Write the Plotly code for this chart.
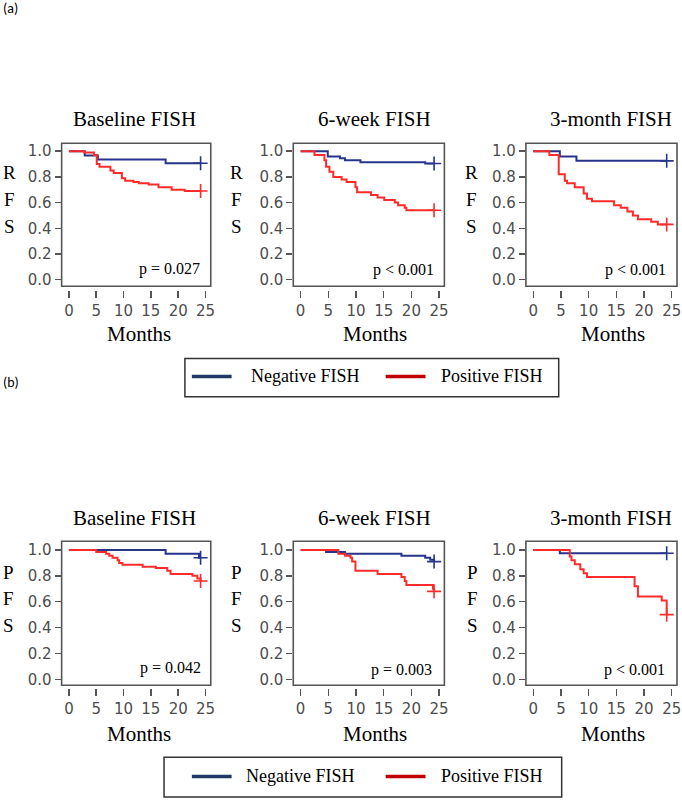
import plotly.graph_objects as go

# ---------------- data ----------------
panel_titles = ["Baseline FISH", "6-week FISH", "3-month FISH"]
row_letters = [["R", "F", "S"], ["P", "F", "S"]]
p_values_rfs = ["p = 0.027", "p < 0.001", "p < 0.001"]
p_values_pfs = ["p = 0.042", "p = 0.003", "p < 0.001"]
x_ticks = [0, 5, 10, 15, 20, 25]
y_ticks = [0.0, 0.2, 0.4, 0.6, 0.8, 1.0]
y_tick_labels = ["0.0", "0.2", "0.4", "0.6", "0.8", "1.0"]
legend_labels = ["Negative FISH", "Positive FISH"]

# (a) RFS
rfs_base_neg_t = [0, 2.9, 5.3, 17.7, 24.1]
rfs_base_neg_s = [1.0, 0.966, 0.936, 0.907, 0.907]
rfs_base_pos_t = [0, 2.8, 4.6, 5.1, 5.6, 7.6, 8.2, 9.7, 10.3, 11.8, 12.8, 14.6, 16.4, 18.8, 21.2, 24.1]
rfs_base_pos_s = [1.0, 0.99, 0.97, 0.90, 0.88, 0.85, 0.83, 0.79, 0.77, 0.76, 0.75, 0.74, 0.72, 0.70, 0.69, 0.69]

rfs_6w_neg_t = [0, 4.9, 7.1, 8.0, 10.8, 22.5, 24.1]
rfs_6w_neg_s = [1.0, 0.96, 0.945, 0.93, 0.915, 0.905, 0.905]
rfs_6w_pos_t = [0, 2.5, 4.3, 4.6, 5.2, 5.9, 7.4, 8.3, 9.9, 10.2, 12.7, 13.9, 15.1, 17.0, 17.6, 18.8, 19.1, 24.1]
rfs_6w_pos_s = [1.0, 0.97, 0.93, 0.88, 0.84, 0.80, 0.78, 0.76, 0.72, 0.68, 0.66, 0.64, 0.62, 0.60, 0.58, 0.56, 0.54, 0.54]

rfs_3m_neg_t = [0, 4.8, 7.8, 24.1]
rfs_3m_neg_s = [1.0, 0.96, 0.925, 0.925]
rfs_3m_pos_t = [0, 2.9, 4.6, 5.7, 6.1, 7.5, 9.1, 9.7, 10.6, 14.6, 15.8, 17.0, 18.0, 18.9, 21.3, 22.5, 24.1]
rfs_3m_pos_s = [1.0, 0.97, 0.82, 0.77, 0.75, 0.72, 0.67, 0.63, 0.61, 0.58, 0.56, 0.53, 0.50, 0.47, 0.45, 0.43, 0.43]

# (b) PFS
pfs_base_neg_t = [0, 17.7, 23.8, 24.1]
pfs_base_neg_s = [1.0, 0.97, 0.94, 0.94]
pfs_base_pos_t = [0, 5.0, 6.8, 7.4, 8.0, 8.9, 9.2, 9.8, 13.5, 15.9, 18.0, 18.6, 22.6, 23.5, 24.1]
pfs_base_pos_s = [1.0, 0.985, 0.97, 0.955, 0.94, 0.92, 0.90, 0.885, 0.87, 0.86, 0.84, 0.815, 0.80, 0.78, 0.76]

pfs_6w_neg_t = [0, 4.6, 8.0, 18.2, 22.5, 23.4, 24.1]
pfs_6w_neg_s = [1.0, 0.985, 0.97, 0.955, 0.94, 0.925, 0.91]
pfs_6w_pos_t = [0, 6.8, 8.0, 9.0, 9.3, 9.9, 13.9, 18.2, 18.8, 19.1, 23.9, 24.1]
pfs_6w_pos_s = [1.0, 0.97, 0.955, 0.94, 0.91, 0.84, 0.815, 0.79, 0.76, 0.73, 0.70, 0.68]

pfs_3m_neg_t = [0, 4.8, 24.1]
pfs_3m_neg_s = [1.0, 0.975, 0.975]
pfs_3m_pos_t = [0, 6.6, 6.9, 7.5, 8.5, 9.1, 9.7, 18.0, 18.3, 18.9, 22.9, 23.2, 24.1]
pfs_3m_pos_s = [1.0, 0.95, 0.92, 0.89, 0.85, 0.82, 0.79, 0.79, 0.72, 0.64, 0.64, 0.61, 0.50]

panels = [
    (rfs_base_neg_t, rfs_base_neg_s, rfs_base_pos_t, rfs_base_pos_s),
    (rfs_6w_neg_t, rfs_6w_neg_s, rfs_6w_pos_t, rfs_6w_pos_s),
    (rfs_3m_neg_t, rfs_3m_neg_s, rfs_3m_pos_t, rfs_3m_pos_s),
    (pfs_base_neg_t, pfs_base_neg_s, pfs_base_pos_t, pfs_base_pos_s),
    (pfs_6w_neg_t, pfs_6w_neg_s, pfs_6w_pos_t, pfs_6w_pos_s),
    (pfs_3m_neg_t, pfs_3m_neg_s, pfs_3m_pos_t, pfs_3m_pos_s),
]

# ---------------- layout helpers ----------------
W, H = 682, 802
def px(x):
    return x / W
def py(y):
    return 1 - y / H

BLUE = "#27348b"
RED = "#ff2b2b"
LEG_BLUE = "#1f3864"
LEG_RED = "#c00000"
AX = "#555555"
SERIF = "Liberation Serif, Times New Roman, serif"
SANS = "DejaVu Sans, Arial, sans-serif"

box_x = [(62, 212), (295, 447), (529, 681)]
box_y = [(143, 286.7), (543, 687.7)]
x_tick_top = [290, 690]
y_ranges = [[-0.052, 1.062], [-0.046, 1.067]]
x_range = [-1.33, 25.96]

title_x = [135, 377, 615]
title_y = [118.3, 520]
letter_x = [[9.3, 238.3, 474], [8.3, 238.3, 475]]
letter_y = [[172.3, 199, 226.7], [574, 600, 628]]
months_x = [139.5, 377, 616.7]
months_y = [335, 737]
p_x = [[203.3, 438.3, 671.7], [204, 436.7, 671]]
p_y = [[269.3, 270, 270], [670.7, 672, 672]]

fig = go.Figure()
layout = dict(
    width=W, height=H, margin=dict(l=0, r=0, t=0, b=0),
    paper_bgcolor="white", plot_bgcolor="white", showlegend=False,
)
shapes = []
annotations = []

for i, (nt, ns, ptt, ps) in enumerate(panels):
    row, col = divmod(i, 3)
    k = i + 1
    xa = "x" if k == 1 else f"x{k}"
    ya = "y" if k == 1 else f"y{k}"
    xkey = "xaxis" if k == 1 else f"xaxis{k}"
    ykey = "yaxis" if k == 1 else f"yaxis{k}"

    for t, s, c in ((nt, ns, BLUE), (ptt, ps, RED)):
        fig.add_trace(go.Scatter(x=t, y=s, mode="lines", line=dict(color=c, width=2, shape="hv"),
                                 xaxis=xa, yaxis=ya, hoverinfo="skip"))
        fig.add_trace(go.Scatter(x=[t[-1]], y=[s[-1]], mode="markers",
                                 marker=dict(symbol="cross-thin", size=10, line=dict(color=c, width=1.6)),
                                 xaxis=xa, yaxis=ya, hoverinfo="skip"))

    x0, x1 = box_x[col]
    y0, y1 = box_y[row]
    layout[xkey] = dict(
        domain=[px(x0), px(x1)], range=x_range, anchor="free", position=py(x_tick_top[row]),
        showline=False, showgrid=False, zeroline=False, ticks="outside", ticklen=7, tickwidth=1.5,
        tickcolor=AX, tickvals=x_ticks, ticktext=[str(v) for v in x_ticks],
        tickfont=dict(family=SANS, size=15, color="#4d4d4d"), fixedrange=True,
    )
    layout[ykey] = dict(
        domain=[py(y1), py(y0)], range=y_ranges[row], anchor=xa,
        showline=False, showgrid=False, zeroline=False, ticks="outside", ticklen=6, tickwidth=1.5,
        tickcolor=AX, tickvals=y_ticks, ticktext=y_tick_labels,
        tickfont=dict(family=SANS, size=15, color="#4d4d4d"), fixedrange=True,
    )
    shapes.append(dict(type="rect", xref=f"{xa} domain", yref=f"{ya} domain", x0=0, x1=1, y0=0, y1=1,
                       line=dict(color=AX, width=1.6), fillcolor="rgba(0,0,0,0)", layer="above"))

    annotations.append(dict(text=panel_titles[col], x=px(title_x[col]), y=py(title_y[row]), xref="paper",
                            yref="paper", showarrow=False, font=dict(family=SERIF, size=21, color="black"),
                            xanchor="center", yanchor="middle"))
    for L, ly in zip(row_letters[row], letter_y[row]):
        annotations.append(dict(text=L, x=px(letter_x[row][col]), y=py(ly), xref="paper", yref="paper",
                                showarrow=False, font=dict(family=SERIF, size=19, color="black"),
                                xanchor="center", yanchor="middle"))
    annotations.append(dict(text="Months", x=px(months_x[col]), y=py(months_y[row]), xref="paper",
                            yref="paper", showarrow=False, font=dict(family=SERIF, size=21, color="black"),
                            xanchor="center", yanchor="middle"))
    ptxt = (p_values_rfs if row == 0 else p_values_pfs)[col]
    annotations.append(dict(text=ptxt, x=px(p_x[row][col]), y=py(p_y[row][col]), xref="paper",
                            yref="paper", showarrow=False, font=dict(family=SERIF, size=16, color="black"),
                            xanchor="right", yanchor="middle"))

# legends (two boxes)
leg_boxes = [(186, 359.3, 562, 397.7), (165, 760, 565, 800)]
leg_text_y = [377.3, 779.3]
leg_line_x = [(193, 233), (388, 428)]
leg_text_x = [(250, 441.7), (245, 441.7)]
for r, (lx0, ly0, lx1, ly1) in enumerate(leg_boxes):
    shapes.append(dict(type="rect", xref="paper", yref="paper", x0=px(lx0), x1=px(lx1), y0=py(ly1), y1=py(ly0),
                       line=dict(color="#333333", width=1.5), fillcolor="rgba(0,0,0,0)"))
    for j, c in enumerate((LEG_BLUE, LEG_RED)):
        a, b = leg_line_x[j]
        shapes.append(dict(type="line", xref="paper", yref="paper", x0=px(a), x1=px(b),
                           y0=py(leg_text_y[r]), y1=py(leg_text_y[r]), line=dict(color=c, width=3.5)))
        annotations.append(dict(text=legend_labels[j], x=px(leg_text_x[r][j]), y=py(leg_text_y[r]),
                                xref="paper", yref="paper", showarrow=False,
                                font=dict(family=SERIF, size=18, color="black"),
                                xanchor="left", yanchor="middle"))

# panel labels
annotations.append(dict(text="(a)", x=px(1), y=py(8), xref="paper", yref="paper", showarrow=False,
                        font=dict(family="Carlito, Liberation Sans, sans-serif", size=14, color="black"),
                        xanchor="left", yanchor="middle"))
annotations.append(dict(text="(b)", x=px(1), y=py(383), xref="paper", yref="paper", showarrow=False,
                        font=dict(family="Carlito, Liberation Sans, sans-serif", size=14, color="black"),
                        xanchor="left", yanchor="middle"))

layout["shapes"] = shapes
layout["annotations"] = annotations
fig.update_layout(**layout)
fig.write_html(
    "out.html",
    config={"displayModeBar": False, "staticPlot": True},
    post_script="document.body.style.margin='0';document.body.style.overflow='hidden';",
)
